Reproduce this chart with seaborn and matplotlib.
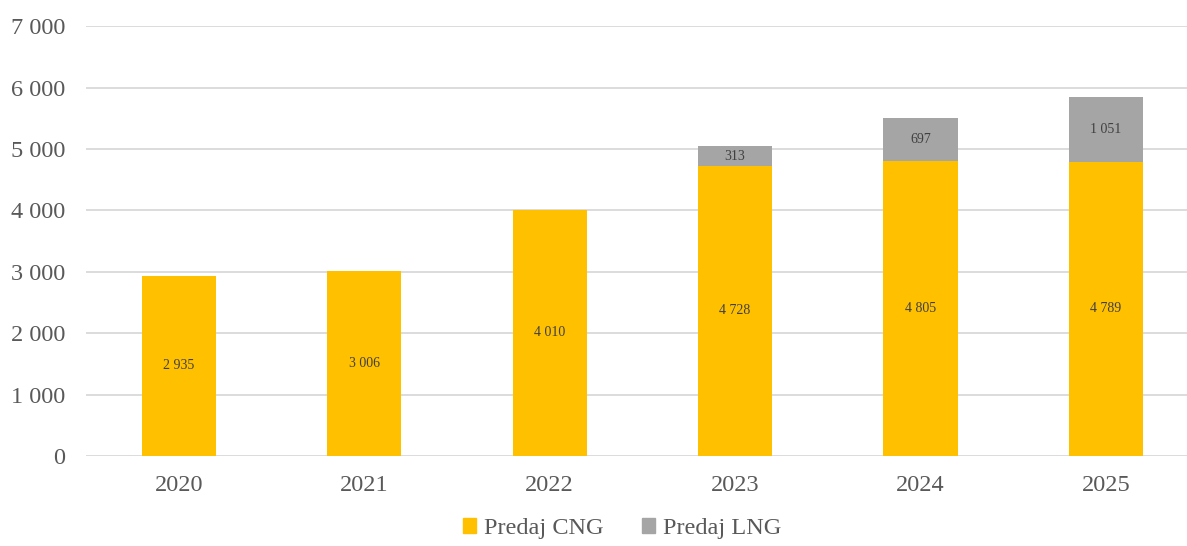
import numpy as np
import pandas as pd
import matplotlib
matplotlib.use("Agg")
import matplotlib.pyplot as plt
import seaborn as sns
from matplotlib.patches import Patch

years = ["2020", "2021", "2022", "2023", "2024", "2025"]
cng = [2935, 3006, 4010, 4728, 4805, 4789]
lng = [0, 0, 0, 313, 697, 1051]

def fmt(v):
    return f"{v:,.0f}".replace(",", " ")

df = pd.DataFrame({"rok": years, "CNG": cng, "LNG": lng})
df["spolu"] = df["CNG"] + df["LNG"]

sns.set_style("white")
plt.rcParams["font.family"] = ["Liberation Serif", "DejaVu Serif"]

c_cng = "#FFC000"
c_lng = "#A5A5A5"
txt = "#595959"

fig = plt.figure(figsize=(11.87, 5.46), dpi=100)
ax = fig.add_axes([0.0727, 0.165, 0.937, 0.787])

# stacked: total first (gray), CNG on top of it (yellow)
sns.barplot(data=df, x="rok", y="spolu", color=c_lng, width=0.4, saturation=1, linewidth=0, ax=ax)
sns.barplot(data=df, x="rok", y="CNG", color=c_cng, width=0.4, saturation=1, linewidth=0, ax=ax)

for i, row in df.iterrows():
    ax.text(i, row["CNG"] / 2, fmt(row["CNG"]), ha="center", va="center", fontsize=10, color="#404040")
    if row["LNG"] > 0:
        ax.text(i, row["CNG"] + row["LNG"] / 2, fmt(row["LNG"]), ha="center", va="center",
                fontsize=10, color="#404040")

ax.set_ylim(0, 7000)
ax.set_xlim(-0.5, 5.5)
ax.set_yticks(range(0, 7001, 1000))
ax.set_yticklabels([fmt(v) for v in range(0, 7001, 1000)])
ax.yaxis.grid(True, color="#D9D9D9", linewidth=1.3)
ax.set_axisbelow(True)
for s in ax.spines.values():
    s.set_visible(False)
ax.tick_params(axis="both", length=0, labelsize=17.5, colors=txt)
ax.tick_params(axis="y", pad=15)
ax.tick_params(axis="x", pad=14)
ax.set_xlabel("")
ax.set_ylabel("")

handles = [Patch(color=c_cng, label="Predaj CNG"), Patch(color=c_lng, label="Predaj LNG")]
leg = fig.legend(handles=handles, loc="lower center", bbox_to_anchor=(0.524, -0.028), ncol=2,
                 frameon=False, fontsize=17.5, handlelength=0.55, handleheight=0.55,
                 handletextpad=0.3, columnspacing=1.6)
for t in leg.get_texts():
    t.set_color(txt)

fig.savefig("out.png", dpi=100)
